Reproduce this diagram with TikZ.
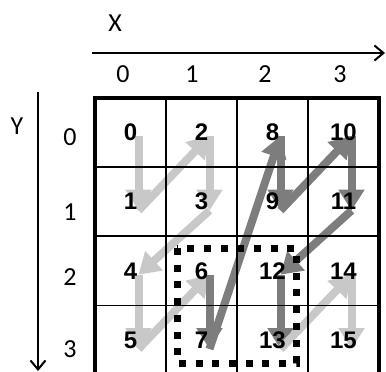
\documentclass[tikz,border=0pt]{standalone}
\usepackage{fontspec}
\setmainfont{Carlito}
\newfontfamily\numfont{Liberation Sans}
\usetikzlibrary{arrows.meta}
\definecolor{lightarr}{HTML}{C8C8C8}
\definecolor{darkarr}{HTML}{7D7D7D}
\begin{document}
\begin{tikzpicture}[x=1pt,y=-1pt,
  axislbl/.style={font=\fontsize{26}{28}\selectfont, inner sep=0pt},
  num/.style={font=\numfont\bfseries\fontsize{24}{24}\selectfont, inner sep=0pt},
  axisline/.style={line width=2pt, -{Straight Barb[length=9pt,width=15pt,line width=2pt]}},
  zzarrow/.style={line width=8pt, -{Triangle[width=25pt,length=21pt]}},
  lt/.style={zzarrow, draw=lightarr, fill=lightarr},
  dk/.style={zzarrow, draw=darkarr, fill=darkarr},
  thin grid/.style={line width=1.5pt},
  thick grid/.style={line width=4pt},
  dotbox/.style={line width=7pt, dash pattern=on 7pt off 9.7pt}
]
\useasboundingbox (0,0) rectangle (386,372);
\clip (0,0) rectangle (386,372);

% anchor points (P = upper, Q = lower)
\foreach \n/\cx/\cy in {0/130.5/132, 1/130.5/201.5, 2/201.5/132, 3/201.5/201.5,
  4/130.5/270.75, 5/130.5/340, 6/201.5/270.75, 7/201.5/340,
  8/272.5/132, 9/272.5/201.5, 10/343.5/132, 11/343.5/201.5,
  12/272.5/270.75, 13/272.5/340, 14/343.5/270.75, 15/343.5/340}{
  \coordinate (p\n) at (\cx+8,\cy+4);
  \coordinate (q\n) at (\cx+8,\cy+9);
}

% zig-zag arrows
\draw[lt] (p0) -- (q1);
\draw[lt] (q1) -- (p2);
\draw[lt] (p2) -- (q3);
\draw[lt] (q3) -- (p4);
\draw[lt] (p4) -- (q5);
\draw[lt] (q5) -- (p6);
\draw[dk] (p6) -- (q7);
\draw[dk] (q7) -- (p8);
\draw[dk] (p8) -- (q9);
\draw[dk] (q9) -- (p10);
\draw[dk] (p10) -- (q11);
\draw[dk] (q11) -- (p12);
\draw[dk] (p12) -- (q13);
\draw[lt] (q13) -- (p14);
\draw[lt] (p14) -- (q15);

% grid
\draw[thin grid] (166,97.5) -- (166,380);
\draw[thin grid] (237,97.5) -- (237,380);
\draw[thin grid] (308,97.5) -- (308,380);
\draw[thin grid] (95,167) -- (379,167);
\draw[thin grid] (95,236) -- (379,236);
\draw[thin grid] (95,305.5) -- (379,305.5);
\draw[thick grid] (95,380) -- (95,97.5) -- (379,97.5) -- (379,380);

% cell numbers
\foreach \n/\cx/\cy in {0/130.5/132, 1/130.5/201.5, 2/201.5/132, 3/201.5/201.5,
  4/130.5/270.75, 5/130.5/340, 6/201.5/270.75, 7/201.5/340,
  8/272.5/132, 9/272.5/201.5, 10/343.5/132, 11/343.5/201.5,
  12/272.5/270.75, 13/272.5/340, 14/343.5/270.75, 15/343.5/340}{
  \node[num] (n\n) at (\cx,\cy) {\n};
}

% dotted box
\draw[dotbox] (177,248) rectangle (296,363);

% axes
\coordinate (xa0) at (92,53);
\coordinate (xa1) at (385,53);
\coordinate (ya0) at (38,92);
\coordinate (ya1) at (38,371);
\draw[axisline] (xa0) -- (xa1);
\draw[axisline] (ya0) -- (ya1);
\node[axislbl] (xl) at (115,23) {X};
\node[axislbl] (yl) at (17,126) {Y};
\node[axislbl] (c0) at (123,74) {0};
\node[axislbl] (c1) at (192,74) {1};
\node[axislbl] (c2) at (265,74) {2};
\node[axislbl] (c3) at (340,74) {3};
\node[axislbl] (r0) at (70,137) {0};
\node[axislbl] (r1) at (70,212) {1};
\node[axislbl] (r2) at (70,277) {2};
\node[axislbl] (r3) at (70,349) {3};
\end{tikzpicture}
\end{document}
